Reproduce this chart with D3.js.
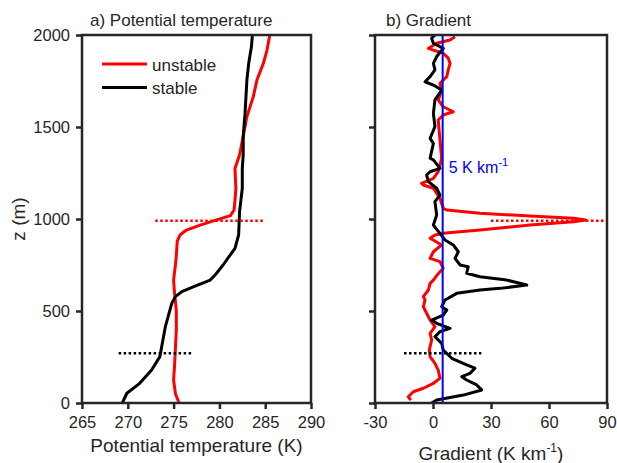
<!DOCTYPE html>
<html>
<head>
<meta charset="utf-8">
<script src="https://cdn.jsdelivr.net/npm/d3@7"></script>
<style>
  body { margin: 0; background: #fff; }
  text { font-family: "Liberation Sans", Arial, sans-serif; fill: #262626; }
</style>
</head>
<body>
<div id="chart"></div>
<script>
// profiles: [height (m), value]
const unstableTheta = [[0,275.6],[50,275.2],[125,275.0],[200,275.1],[300,275.2],[400,275.3],[500,275.3],[600,275.1],[668,275.0],[750,275.2],[804,275.3],[880,275.4],[913,275.7],[940,276.4],[967,277.9],[995,279.7],[1018,281.2],[1049,281.6],[1100,281.7],[1167,281.8],[1275,281.7],[1348,282.2],[1450,282.6],[1556,283.0],[1665,283.7],[1755,284.1],[1846,284.8],[1918,285.2],[2000,285.5]];
const stableTheta = [[0,269.4],[53,269.9],[107,271.3],[179,272.6],[252,273.5],[360,273.9],[415,274.1],[469,274.4],[542,274.8],[578,275.2],[605,275.9],[632,277.2],[668,279.0],[700,279.6],[750,280.4],[841,281.7],[913,282.1],[1040,282.2],[1167,282.5],[1275,282.5],[1348,282.6],[1450,282.6],[1574,282.8],[1755,283.0],[1846,283.2],[1937,283.5],[2000,283.6]];
const unstableGrad = [[16,-11.5],[34,-12.8],[61,-10.2],[80,-5.0],[107,0.2],[134,3.6],[179,2.7],[215,1.0],[252,-1.5],[288,-1.9],[342,-0.7],[379,-1.5],[415,1.0],[451,-1.5],[488,-3.3],[523,-5.0],[560,-4.1],[578,-5.0],[614,-2.4],[650,-1.5],[668,0.2],[700,2.5],[732,5.3],[768,3.6],[786,-1.5],[822,0.2],[859,4.5],[895,-1.5],[913,1.0],[922,5.3],[940,24.3],[967,50.2],[985,72.6],[995,79],[1004,72.6],[1016,50.2],[1031,24.3],[1049,7.1],[1058,5.3],[1112,3.6],[1167,0.2],[1185,-5.0],[1194,-5.9],[1221,0.2],[1257,2.7],[1330,4.5],[1429,3.6],[1538,2.7],[1565,5.3],[1583,10.5],[1610,5.3],[1647,2.7],[1701,4.5],[1738,3.6],[1774,7.1],[1810,7.9],[1846,8.8],[1874,7.9],[1901,5.3],[1918,0.2],[1927,-2.4],[1955,1.9],[1973,8.8],[1990,11.4]];
const stableGrad = [[0,-0.7],[16,1.9],[43,15.7],[71,25.2],[98,22.6],[125,17.4],[143,14.9],[161,19.1],[189,21.7],[207,17.4],[243,9.7],[288,5.3],[324,4.5],[360,1.0],[388,3.6],[406,8.8],[433,1.9],[451,-0.7],[478,5.3],[505,7.1],[523,4.5],[560,6.2],[596,12.3],[614,24.3],[623,34.7],[641,48.5],[668,38.1],[686,24.3],[705,17.4],[741,18.2],[750,14.0],[786,11.4],[822,13.1],[859,10.5],[886,6.2],[922,3.6],[967,0.2],[1022,1.9],[1094,1.0],[1130,3.6],[1167,1.9],[1203,-2.4],[1239,-3.3],[1257,-1.5],[1275,3.6],[1321,0.2],[1330,-1.5],[1411,0.2],[1438,-1.5],[1502,1.0],[1574,0.2],[1647,1.0],[1701,4.5],[1728,0.2],[1746,-4.1],[1774,-1.5],[1810,1.0],[1846,0.2],[1883,1.9],[1927,5.3],[1955,0.2],[1982,-0.7],[2000,1.0]];

// boundary layer height markers: [height, from, to]
const unstableMarkA = [990, 273, 285];
const stableMarkA = [270, 269, 277];
const unstableMarkB = [990, 30, 90];
const stableMarkB = [270, -15, 25];
const refGradient = 5;

const thetaTicks = [265, 270, 275, 280, 285, 290];
const gradTicks = [-30, 0, 30, 60, 90];
const zTicks = [0, 500, 1000, 1500, 2000];

const W = 617, H = 463;
const axisColor = "#262626";

const svg = d3.select("#chart").append("svg")
  .attr("width", W).attr("height", H);

const y = d3.scaleLinear().domain([0, 2000]).range([403, 35]);
const xA = d3.scaleLinear().domain([265, 290]).range([82, 311]);
const xB = d3.scaleLinear().domain([-30, 90]).range([375, 607]);

// plain hyphen for negatives, like the original
const fmt = function (d) { return String(d) };

function panel(id, x, ticks, showY) {
  const g = svg.append("g");
  g.append("clipPath").attr("id", id)
    .append("rect")
    .attr("x", x.range()[0]).attr("y", y.range()[1])
    .attr("width", x.range()[1] - x.range()[0])
    .attr("height", y.range()[0] - y.range()[1]);

  const plot = g.append("g").attr("clip-path", "url(#" + id + ")");

  // box
  g.append("rect")
    .attr("x", x.range()[0]).attr("y", y.range()[1])
    .attr("width", x.range()[1] - x.range()[0])
    .attr("height", y.range()[0] - y.range()[1])
    .attr("fill", "none").attr("stroke", axisColor).attr("stroke-width", 2.5);

  const xAxis = g.append("g")
    .attr("transform", "translate(0," + y.range()[0] + ")")
    .call(d3.axisBottom(x).tickValues(ticks).tickSize(6).tickPadding(7).tickFormat(fmt));
  xAxis.select(".domain").remove();

  const yAxis = g.append("g")
    .attr("transform", "translate(" + x.range()[0] + ",0)")
    .call(d3.axisLeft(y).tickValues(zTicks).tickSize(6).tickPadding(6)
      .tickFormat(showY ? fmt : ""));
  yAxis.select(".domain").remove();

  g.selectAll(".tick line").attr("stroke", axisColor).attr("stroke-width", 2.5);
  g.selectAll(".tick text")
    .style("font-family", "'Liberation Sans', Arial, sans-serif")
    .style("font-size", "16.5px").attr("fill", axisColor);
  return plot;
}

const plotA = panel("clipA", xA, thetaTicks, true);
const plotB = panel("clipB", xB, gradTicks, false);

function addLine(plot, data, x, color) {
  plot.append("path")
    .datum(data)
    .attr("d", d3.line()
      .x(function (d) { return x(d[1]) })
      .y(function (d) { return y(d[0]) }))
    .attr("fill", "none")
    .attr("stroke", color)
    .attr("stroke-width", 3)
    .attr("stroke-linejoin", "round");
}

function addMark(plot, m, x, color) {
  plot.append("line")
    .attr("x1", x(m[1])).attr("x2", x(m[2]))
    .attr("y1", y(m[0])).attr("y2", y(m[0]))
    .attr("stroke", color).attr("stroke-width", 2.5)
    .attr("stroke-dasharray", "2.5,2.5");
}

addLine(plotA, unstableTheta, xA, "#ff0000");
addLine(plotA, stableTheta, xA, "#000000");
addMark(plotA, unstableMarkA, xA, "#ff0000");
addMark(plotA, stableMarkA, xA, "#000000");

addLine(plotB, unstableGrad, xB, "#ff0000");
addLine(plotB, stableGrad, xB, "#000000");
plotB.append("line")
  .attr("x1", xB(refGradient)).attr("x2", xB(refGradient))
  .attr("y1", y(0)).attr("y2", y(2000))
  .attr("stroke", "#0000ff").attr("stroke-width", 2);
addMark(plotB, unstableMarkB, xB, "#ff0000");
addMark(plotB, stableMarkB, xB, "#000000");

// legend
const legend = [["unstable", "#ff0000", 64], ["stable", "#000000", 87.5]];
legend.forEach(function (l) {
  svg.append("line")
    .attr("x1", 102).attr("x2", 147).attr("y1", l[2]).attr("y2", l[2])
    .attr("stroke", l[1]).attr("stroke-width", 3);
  svg.append("text").attr("x", 152).attr("y", l[2] + 6.5)
    .style("font-size", "17px").text(l[0]);
});

// titles
svg.append("text").attr("x", 90).attr("y", 26)
  .style("font-size", "17px").text("a) Potential temperature");
svg.append("text").attr("x", 386).attr("y", 26)
  .style("font-size", "17px").text("b) Gradient");

// axis labels
svg.append("text")
  .attr("transform", "translate(25," + y(1000) + ") rotate(-90)")
  .attr("text-anchor", "middle")
  .style("font-size", "19px").text("z (m)");

svg.append("text")
  .attr("x", (xA.range()[0] + xA.range()[1]) / 2).attr("y", 452)
  .attr("text-anchor", "middle")
  .style("font-size", "19px").text("Potential temperature (K)");

const gl = svg.append("text")
  .attr("x", (xB.range()[0] + xB.range()[1]) / 2).attr("y", 460)
  .attr("text-anchor", "middle")
  .style("font-size", "19px");
gl.append("tspan").text("Gradient (K km");
gl.append("tspan").attr("dy", -8).style("font-size", "12px").text("-1");
gl.append("tspan").attr("dy", 8).text(")");

// reference gradient label
const rl = svg.append("text")
  .attr("x", xB(refGradient) + 6).attr("y", 173)
  .style("font-size", "16px").style("fill", "#0000ff");
rl.append("tspan").text("5 K km");
rl.append("tspan").attr("dy", -7).style("font-size", "11px").text("-1");
</script>
</body>
</html>
